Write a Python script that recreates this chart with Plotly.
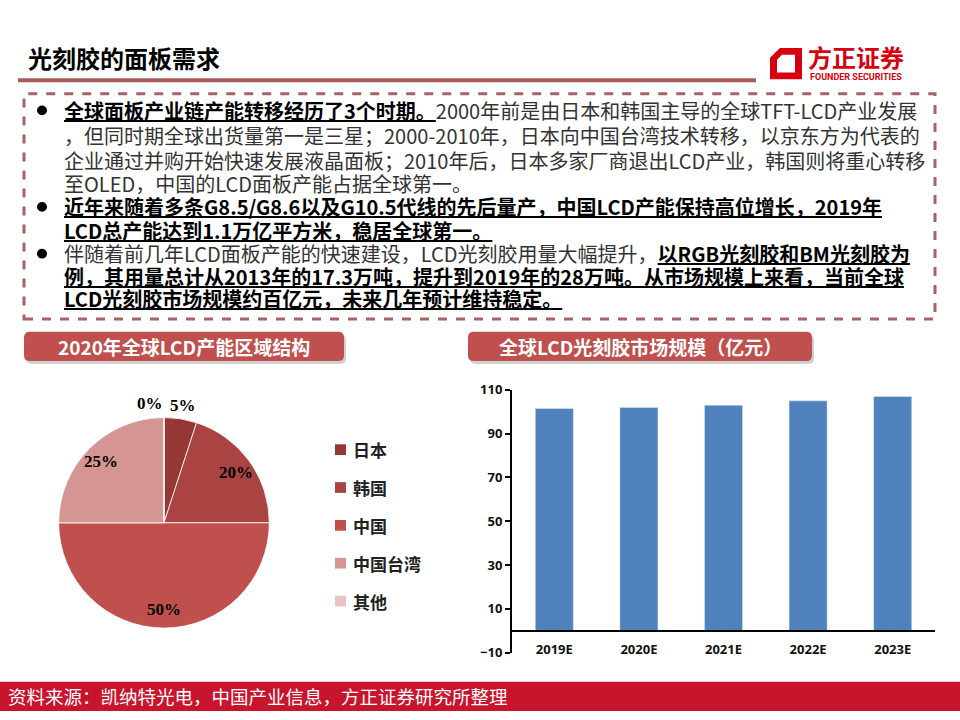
import math
import plotly.graph_objects as go

# pie: 2020 global LCD capacity by region
regions = ["日本", "韩国", "中国", "中国台湾", "其他"]
shares = [5, 20, 50, 25, 0]
region_colors = ["#953735", "#a94442", "#c0504d", "#d49593", "#e8c4c3"]

# bar: global LCD photoresist market size (100m yuan)
years = ["2019E", "2020E", "2021E", "2022E", "2023E"]
market = [101.5, 102, 103, 105, 107]
y_ticks = [-10, 10, 30, 50, 70, 90, 110]

W, H = 960, 720
CJK = "Noto Sans CJK SC"


def px(x):
    return x / W


def py(y):
    return 1 - y / H


# pie placement (pixels)
pie_cx, pie_cy, pie_r = 164, 527, 108

fig = go.Figure()

fig.add_trace(go.Pie(
    labels=regions,
    values=shares,
    sort=False,
    direction="clockwise",
    rotation=0,
    marker=dict(colors=region_colors, line=dict(color="white", width=0.8)),
    textinfo="none",
    domain=dict(x=[px(pie_cx - pie_r), px(pie_cx + pie_r)],
                y=[py(pie_cy + pie_r), py(pie_cy - pie_r)]),
    showlegend=False,
    hoverinfo="label+percent",
))

fig.add_trace(go.Bar(
    x=years,
    y=market,
    marker_color="#4f81bd",
    xaxis="x",
    yaxis="y",
    showlegend=False,
))

y_lo, y_hi = y_ticks[0], y_ticks[-1]
ydom = [py(660), py(390.7)]
zero_pos = ydom[0] + (0 - y_lo) / (y_hi - y_lo) * (ydom[1] - ydom[0])

fig.update_layout(
    width=W, height=H,
    margin=dict(l=0, r=0, t=0, b=0),
    paper_bgcolor="white",
    plot_bgcolor="white",
    font=dict(family=CJK, color="#222"),
    bargap=0.55,
    showlegend=False,
    xaxis=dict(
        domain=[px(512), px(935)],
        anchor="free", position=zero_pos,
        showline=True, linecolor="black", linewidth=2,
        ticks="", showgrid=False, ticklabelstandoff=7,
        tickfont=dict(family="Open Sans", size=13, color="#111", weight="bold"),
    ),
    yaxis=dict(
        domain=ydom,
        range=[y_lo, y_hi],
        tickvals=y_ticks,
        showline=True, linecolor="black", linewidth=2,
        ticks="outside", ticklen=5, tickwidth=2, tickcolor="black",
        showgrid=False, zeroline=False,
        tickfont=dict(family="Open Sans", size=13, color="#111", weight="bold"),
    ),
)

shapes = []
ann = []


def text(x, y, t, size, color, family=CJK, anchor="left"):
    ann.append(dict(xref="paper", yref="paper", x=px(x), y=py(y), text=t,
                    showarrow=False, xanchor=anchor, yanchor="middle",
                    font=dict(family=family, size=size, color=color)))


def rect(x0, x1, y0, y1, **kw):
    shapes.append(dict(type="rect", xref="paper", yref="paper",
                       x0=px(x0), x1=px(x1), y0=py(y1), y1=py(y0), **kw))


def poly(points, color):
    p = "M " + " L ".join("{} {}".format(px(a), py(b)) for a, b in points) + " Z"
    shapes.append(dict(type="path", xref="paper", yref="paper", path=p,
                       fillcolor=color, line_width=0))


# header
text(26, 50, "<b>光刻胶的面板需求</b>", 24, "black")
rect(18, 756, 71, 75, fillcolor="#a65c5c", line_width=0)

# logo
poly([(770, 50), (780, 40), (802, 40), (802, 72), (770, 72), (770, 50),
      (777, 52), (777, 65), (795, 65), (795, 47), (782, 47), (777, 52)], "#d7000f")
text(806, 49, "<b>方正证券</b>", 24, "#d7000f")
text(808, 70, "<b>FOUNDER SECURITIES</b>", 9, "#d7000f", family="Roboto")

# dashed text box
rect(24, 935, 87, 318, line=dict(color="#a86464", width=3, dash="dash"))

B = '<span style="font-weight:bold;text-decoration:underline;color:#000">'
E = '</span>'
lines = [
    B + "全球面板产业链产能转移经历了3个时期。" + E + "2000年前是由日本和韩国主导的全球TFT-LCD产业发展",
    "，但同时期全球出货量第一是三星；2000-2010年，日本向中国台湾技术转移，以京东方为代表的",
    "企业通过并购开始快速发展液晶面板；2010年后，日本多家厂商退出LCD产业，韩国则将重心转移",
    "至OLED，中国的LCD面板产能占据全球第一。",
    B + "近年来随着多条G8.5/G8.6以及G10.5代线的先后量产，中国LCD产能保持高位增长，2019年" + E,
    B + "LCD总产能达到1.1万亿平方米，稳居全球第一。" + E,
    "伴随着前几年LCD面板产能的快速建设，LCD光刻胶用量大幅提升，" + B + "以RGB光刻胶和BM光刻胶为" + E,
    B + "例，其用量总计从2013年的17.3万吨，提升到2019年的28万吨。从市场规模上来看，当前全球" + E,
    B + "LCD光刻胶市场规模约百亿元，未来几年预计维持稳定。" + E,
]
line_y = [104, 130, 155, 179, 203, 227, 251, 274, 297]
bullet_rows = [0, 4, 6]
for i, t in enumerate(lines):
    text(62, line_y[i], t, 20, "#333")
for r in bullet_rows:
    yc = line_y[r]
    shapes.append(dict(type="circle", xref="paper", yref="paper",
                       x0=px(37), x1=px(47), y0=py(yc + 5), y1=py(yc - 5),
                       fillcolor="black", line_width=0))


# section title boxes
def title_box(x0, x1, y0, y1, label):
    r = 6

    def path(dx, dy):
        a0, a1, b0, b1 = x0 + dx, x1 + dx, y0 + dy, y1 + dy
        return ("M {} {} L {} {} Q {} {} {} {} L {} {} Q {} {} {} {} L {} {} Q {} {} {} {} "
                "L {} {} Q {} {} {} {} Z").format(
            px(a0 + r), py(b0), px(a1 - r), py(b0), px(a1), py(b0), px(a1), py(b0 + r),
            px(a1), py(b1 - r), px(a1), py(b1), px(a1 - r), py(b1),
            px(a0 + r), py(b1), px(a0), py(b1), px(a0), py(b1 - r),
            px(a0), py(b0 + r), px(a0), py(b0), px(a0 + r), py(b0))
    shapes.append(dict(type="path", xref="paper", yref="paper", path=path(2, 3),
                       fillcolor="rgba(120,120,120,0.35)", line_width=0))
    shapes.append(dict(type="path", xref="paper", yref="paper", path=path(0, 0),
                       fillcolor="#c0504d", line_width=0))
    text((x0 + x1) / 2, (y0 + y1) / 2, "<b>" + label + "</b>", 19, "white", anchor="center")


title_box(24, 344, 331, 361, "2020年全球LCD产能区域结构")
title_box(468, 812, 331, 361, "全球LCD光刻胶市场规模（亿元）")

# pie percentage labels, placed along each slice's middle angle
total = sum(shares)
cum = 0
for v in shares:
    mid = (cum + v / 2) / total * 2 * math.pi
    cum += v
    small = v / total < 0.1
    k = 1.13 if small else 0.82
    lx = pie_cx + math.sin(mid) * pie_r * k
    ly = pie_cy - math.cos(mid) * pie_r * k
    anchor = "center"
    if small and v == 0:
        anchor = "right"
        lx += 1
    text(lx, ly, "<b>{:.0f}%</b>".format(100 * v / total), 17, "black",
         family="Liberation Serif", anchor=anchor)

# pie legend, one entry per region
for i, (name, col) in enumerate(zip(regions, region_colors)):
    yc = 452 + i * 38.8
    rect(335, 346, yc - 5.5, yc + 5.5, fillcolor=col, line_width=0)
    text(351, yc, "<b>" + name + "</b>", 17, "#222")

# footer
rect(0, 960, 690, 720, fillcolor="#c8142c", line_width=0)
text(6, 705, "资料来源：凯纳特光电，中国产业信息，方正证券研究所整理", 18.5, "white")

fig.update_layout(shapes=shapes, annotations=ann)

pin_page = (
    "document.documentElement.style.margin='0';"
    "document.body.style.margin='0';"
    "document.body.style.padding='0';"
    "document.body.style.overflow='hidden';"
    "document.documentElement.style.overflow='hidden';"
    "var g=document.getElementById('{plot_id}');"
    "g.style.position='fixed';g.style.left='0px';g.style.top='0px';"
)

fig.write_html("out.html", config={"displayModeBar": False}, post_script=pin_page)
